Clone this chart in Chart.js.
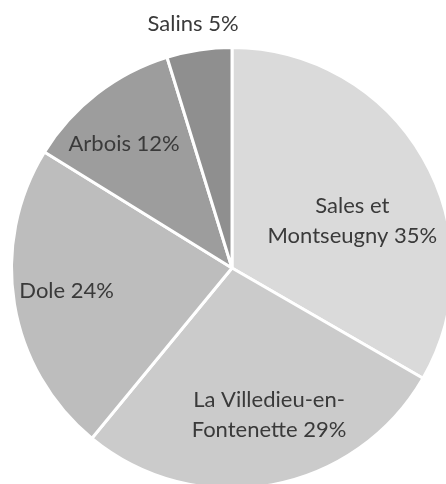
<!DOCTYPE html>
<html>
<head>
<meta charset="utf-8">
<script src="https://cdn.jsdelivr.net/npm/chart.js@4/dist/chart.umd.min.js"></script>
<style>
  html, body { margin: 0; padding: 0; background: #fff; overflow: hidden; }
  #wrap { width: 446px; height: 484px; overflow: hidden; position: relative; }
  canvas { position: absolute; left: 0; top: 0; }
</style>
</head>
<body>
<div id="wrap"><canvas id="myChart" width="464" height="536"></canvas></div>
<script>
// données du graphique
const villes = [['Sales et', 'Montseugny'], ['La Villedieu-en-', 'Fontenette'], ['Dole'], ['Arbois'], ['Salins']];
const pourcents = [35, 29, 24, 12, 5];
const couleurs = ['#dadada', '#cbcbcb', '#bdbdbd', '#9d9d9d', '#8f8f8f'];

// placement des étiquettes (fraction du rayon, décalage en degrés)
const labelDist = [0.586, 0.685, 0.757, 0.744, 1.119];
const labelShift = [8.6, -3.9, 1.6, -3.4, -0.5];

const etiquettes = {
  id: 'etiquettes',
  afterDatasetsDraw(chart) {
    const ctx = chart.ctx;
    const meta = chart.getDatasetMeta(0);
    ctx.save();
    ctx.font = '22px Lato';
    ctx.fillStyle = '#3a3a3a';
    ctx.textAlign = 'center';
    ctx.textBaseline = 'middle';
    meta.data.forEach(function(arc, i) {
      const mid = (arc.startAngle + arc.endAngle) / 2 + labelShift[i] * Math.PI / 180;
      const r = arc.outerRadius * labelDist[i];
      const x = arc.x + Math.cos(mid) * r;
      const y = arc.y + Math.sin(mid) * r;
      const lines = villes[i].slice();
      lines[lines.length - 1] += ' ' + pourcents[i] + '%';
      const lh = 30;
      const y0 = y - (lines.length - 1) * lh / 2;
      lines.forEach(function(t, k) {
        ctx.fillText(t, x, y0 + k * lh);
      });
    });
    ctx.restore();
  }
};

const myChart = new Chart(document.getElementById('myChart'), {
  type: 'pie',
  data: {
    labels: villes.map(v => v.join(' ')),
    datasets: [{
      data: pourcents,
      backgroundColor: couleurs,
      borderColor: '#ffffff',
      borderWidth: 3
    }]
  },
  options: {
    responsive: false,
    animation: false,
    layout: { padding: 10 },
    plugins: {
      legend: { display: false },
      tooltip: { enabled: false }
    }
  },
  plugins: [etiquettes]
});
</script>
</body>
</html>
